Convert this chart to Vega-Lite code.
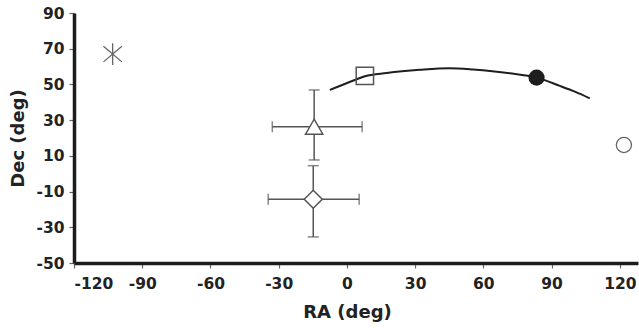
{
  "$schema": "https://vega.github.io/schema/vega-lite/v6.json",
  "width": 564,
  "height": 250,
  "autosize": {"type": "none"},
  "padding": {"left": 74, "top": 13, "right": 1, "bottom": 65},
  "background": "white",
  "config": {
    "view": {"stroke": null},
    "font": "DejaVu Sans",
    "axis": {
      "grid": false,
      "domainColor": "#1c1c1c",
      "domainWidth": 3.5,
      "tickColor": "#666666",
      "tickWidth": 1.2,
      "tickSize": 5,
      "labelFont": "DejaVu Sans",
      "labelFontWeight": "bold",
      "labelFontSize": 15.5,
      "labelColor": "#222222",
      "titleFont": "DejaVu Sans",
      "titleFontWeight": "bold",
      "titleFontSize": 18,
      "titleColor": "#222222"
    }
  },
  "datasets": {
    "objects": [
      {"name": "star", "ra": -103, "dec": 67},
      {"name": "square", "ra": 7.9, "dec": 54.8},
      {"name": "filled", "ra": 83.4, "dec": 53.8},
      {"name": "open", "ra": 121.8, "dec": 16.1}
    ],
    "errors": [
      {"name": "triangle", "ra": -14.4, "dec": 26.3, "ra_lo": -32.8, "ra_hi": 6.7, "dec_lo": 7.7, "dec_hi": 46.9},
      {"name": "diamond", "ra": -14.8, "dec": -14.3, "ra_lo": -34.6, "ra_hi": 5.4, "dec_lo": -35.4, "dec_hi": 4.5}
    ],
    "track": [
      {"ra": -7.5, "dec": 46.9},
      {"ra": 3.5, "dec": 52.5},
      {"ra": 7.9, "dec": 54.6},
      {"ra": 17.5, "dec": 56.4},
      {"ra": 32.1, "dec": 58.2},
      {"ra": 45.0, "dec": 59.1},
      {"ra": 55.5, "dec": 58.4},
      {"ra": 71.6, "dec": 56.3},
      {"ra": 83.4, "dec": 53.8},
      {"ra": 93.6, "dec": 49.2},
      {"ra": 100.5, "dec": 45.8},
      {"ra": 106.8, "dec": 42.2}
    ]
  },
  "encoding": {
    "x": {
      "field": "ra", "type": "quantitative",
      "scale": {"domain": [-120, 128], "nice": false, "zero": false},
      "axis": {"title": "RA (deg)", "values": [-120, -90, -60, -30, 0, 30, 60, 90, 120], "labelExpr": "'' + datum.value", "labelPadding": 8, "titlePadding": 12, "titleX": 273}
    },
    "y": {
      "field": "dec", "type": "quantitative",
      "scale": {"domain": [-50, 90], "nice": false, "zero": false},
      "axis": {"title": "Dec (deg)", "values": [-50, -30, -10, 10, 30, 50, 70, 90], "labelExpr": "'' + datum.value", "labelPadding": 5, "titlePadding": 8}
    }
  },
  "layer": [
    {
      "data": {"values": [{"top": 90}]},
      "mark": {"type": "rule", "color": "#1c1c1c", "strokeWidth": 3.5},
      "encoding": {"y": {"field": "top", "type": "quantitative"}}
    },
    {
      "data": {"name": "track"},
      "mark": {"type": "line", "color": "#1e1e1e", "strokeWidth": 2, "interpolate": "monotone"},
      "encoding": {}
    },
    {
      "data": {"name": "errors"},
      "mark": {"type": "rule", "color": "#555555", "strokeWidth": 1.5},
      "encoding": {"x": {"field": "ra_lo", "type": "quantitative"}, "x2": {"field": "ra_hi"}}
    },
    {
      "data": {"name": "errors"},
      "mark": {"type": "rule", "color": "#555555", "strokeWidth": 1.5},
      "encoding": {"y": {"field": "dec_lo", "type": "quantitative"}, "y2": {"field": "dec_hi"}}
    },
    {
      "data": {"name": "errors"},
      "mark": {"type": "tick", "orient": "vertical", "color": "#555555", "thickness": 1.5, "size": 11},
      "encoding": {"x": {"field": "ra_lo", "type": "quantitative"}}
    },
    {
      "data": {"name": "errors"},
      "mark": {"type": "tick", "orient": "vertical", "color": "#555555", "thickness": 1.5, "size": 11},
      "encoding": {"x": {"field": "ra_hi", "type": "quantitative"}}
    },
    {
      "data": {"name": "errors"},
      "mark": {"type": "tick", "orient": "horizontal", "color": "#555555", "thickness": 1.5, "size": 11},
      "encoding": {"y": {"field": "dec_lo", "type": "quantitative"}}
    },
    {
      "data": {"name": "errors"},
      "mark": {"type": "tick", "orient": "horizontal", "color": "#555555", "thickness": 1.5, "size": 11},
      "encoding": {"y": {"field": "dec_hi", "type": "quantitative"}}
    },
    {
      "data": {"name": "errors"},
      "transform": [{"filter": "datum.name === 'triangle'"}],
      "mark": {"type": "point", "shape": "triangle-up", "filled": true, "fill": "white", "stroke": "#555555", "strokeWidth": 1.5, "size": 300, "opacity": 1}
    },
    {
      "data": {"name": "errors"},
      "transform": [{"filter": "datum.name === 'diamond'"}],
      "mark": {"type": "point", "shape": "diamond", "filled": true, "fill": "white", "stroke": "#555555", "strokeWidth": 1.5, "size": 324, "opacity": 1}
    },
    {
      "data": {"name": "objects"},
      "transform": [{"filter": "datum.name === 'star'"}],
      "mark": {"type": "point", "shape": "M0,-1V1M-0.85,-0.72L0.85,0.72M-0.85,0.72L0.85,-0.72", "stroke": "#666666", "strokeWidth": 1.3, "size": 470, "opacity": 1}
    },
    {
      "data": {"name": "objects"},
      "transform": [{"filter": "datum.name === 'square'"}],
      "mark": {"type": "point", "shape": "square", "filled": false, "stroke": "#555555", "strokeWidth": 1.5, "size": 300, "opacity": 1}
    },
    {
      "data": {"name": "objects"},
      "transform": [{"filter": "datum.name === 'filled'"}],
      "mark": {"type": "point", "shape": "circle", "filled": true, "fill": "#1e1e1e", "size": 260, "opacity": 1}
    },
    {
      "data": {"name": "objects"},
      "transform": [{"filter": "datum.name === 'open'"}],
      "mark": {"type": "point", "shape": "circle", "filled": true, "fill": "white", "stroke": "#666666", "strokeWidth": 1.3, "size": 230, "opacity": 1}
    }
  ]
}
